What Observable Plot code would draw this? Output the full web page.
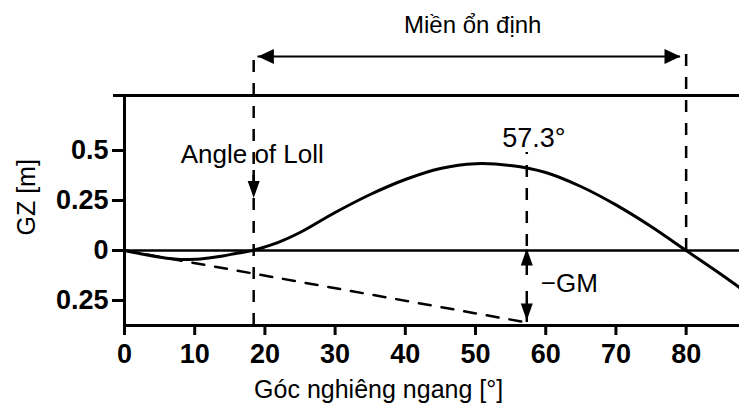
<!DOCTYPE html>
<html><head><meta charset="utf-8">
<script src="https://cdn.jsdelivr.net/npm/d3@7"></script>
<script src="https://cdn.jsdelivr.net/npm/@observablehq/plot@0.6"></script>
<style>
html,body{margin:0;padding:0;background:#fff;}
#chart svg{display:block;}
#chart g[aria-label="x-axis tick label"], #chart g[aria-label="y-axis tick label"]{font-family:"Liberation Sans",Arial,sans-serif;font-size:27px;font-weight:bold;}
</style></head>
<body><div id="chart"></div>
<script>
// GZ curve (heel angle in degrees, GZ in metres)
const angles = [0, 2, 4, 6, 8, 10, 12, 14, 16, 18, 20, 22, 25, 30, 35, 40, 45, 50, 55, 60, 65, 70, 75, 80, 85, 87.6];
const gz     = [0, -0.014, -0.028, -0.039, -0.045, -0.044, -0.037, -0.027, -0.014, -0.002, 0.018, 0.042, 0.09, 0.19, 0.28, 0.355, 0.41, 0.434, 0.425, 0.39, 0.32, 0.228, 0.12, 0, -0.12, -0.185];
const xTicks = [0, 10, 20, 30, 40, 50, 60, 70, 80];
const yTicks = [0.5, 0.25, 0, -0.25];
const yTickLabels = ["0.5", "0.25", "0", "0.25"];
const xDomain = [0, 87.6];
const yDomain = [-0.375, 0.775];
const GM = 0.36;
const lollAngle = 18.4;
const vanishAngle = 80;
const radianAngle = 57.3;
const stableLabel = "Miền ổn định";
const lollLabel = "Angle of Loll";
const radianLabel = "57.3°";
const gmLabel = "−GM";
const xLabel = "Góc nghiêng ngang [°]";
const yLabel = "GZ [m]";

const curveData = angles.map((a, i) => ({angle: a, gz: gz[i]}));
const gmLine = [{angle: 0, gz: 0}, {angle: radianAngle, gz: -GM}];

const head = (len, half) => ({draw(ctx) { ctx.moveTo(0, 0); ctx.lineTo(-half, -len); ctx.lineTo(half, -len); ctx.closePath(); }});
const stableY = 0.97;
const heads = [
  {x: lollAngle + 0.6, y: stableY, dir: 90},
  {x: vanishAngle - 0.8, y: stableY, dir: -90}
];
const heads2 = [
  {x: lollAngle, y: 0.262, dir: 0},
  {x: radianAngle, y: 0.01, dir: 180},
  {x: radianAngle, y: -GM + 0.01, dir: 0}
];
const font = "Liberation Sans, Arial, sans-serif";
const dash = "12,11";

const chart = Plot.plot({
  width: 739, height: 406,
  marginLeft: 124, marginRight: 0, marginTop: 95, marginBottom: 81,
  style: {fontFamily: font, background: "#fff", color: "#000"},
  x: {domain: xDomain, axis: null},
  y: {domain: yDomain, axis: null},
  marks: [
    // frame lines
    Plot.ruleY([yDomain[1]], {insetLeft: -11, strokeWidth: 3}),
    Plot.ruleY([yDomain[0]], {strokeWidth: 3}),
    Plot.ruleX([xDomain[0]], {strokeWidth: 3}),
    Plot.ruleY([0], {strokeWidth: 2.5}),
    // dashed guides
    Plot.ruleX([lollAngle], {y1: yDomain[0], y2: 1.0, strokeWidth: 2.5, strokeDasharray: dash}),
    Plot.ruleX([vanishAngle], {y1: 0, y2: 1.0, strokeWidth: 2.5, strokeDasharray: dash}),
    Plot.ruleX([radianAngle], {y1: 0.02, y2: 0.49, strokeWidth: 2.5, strokeDasharray: dash}),
    Plot.line(gmLine, {x: "angle", y: "gz", strokeWidth: 2.5, strokeDasharray: dash}),
    // GZ curve
    Plot.line(curveData, {x: "angle", y: "gz", curve: "catmull-rom", strokeWidth: 3}),
    // arrows
    Plot.ruleY([stableY], {x1: lollAngle + 0.6, x2: vanishAngle - 0.8, strokeWidth: 2}),
    Plot.ruleX([lollAngle], {y1: 0.3, y2: 0.4, strokeWidth: 2.5}),
    Plot.ruleX([radianAngle], {y1: -0.125, y2: 0, strokeWidth: 2.5}),
    Plot.ruleX([radianAngle], {y1: -GM, y2: -0.205, strokeWidth: 2.5}),
    Plot.dot(heads, {x: "x", y: "y", rotate: "dir", symbol: head(16, 7.5), fill: "#000", stroke: "none"}),
    Plot.dot(heads2, {x: "x", y: "y", rotate: "dir", symbol: head(17, 6), fill: "#000", stroke: "none"}),
    // axes
    Plot.axisX(xTicks, {tickSize: 10, tickPadding: 8, strokeWidth: 3, fontSize: 27, fontWeight: "bold"}),
    Plot.axisY(yTicks, {tickSize: 12, tickPadding: 4, strokeWidth: 3, fontSize: 27, fontWeight: "bold",
      tickFormat: d => yTickLabels[yTicks.indexOf(d)]}),
    // text annotations
    Plot.text([stableLabel], {x: 49.6, y: 1.086, text: d => d, fontSize: 24, lineAnchor: "bottom"}),
    Plot.text([lollLabel], {x: 8.0, y: 0.436, text: d => d, fontSize: 26, textAnchor: "start", lineAnchor: "bottom"}),
    Plot.text([radianLabel], {x: 53.8, y: 0.519, text: d => d, fontSize: 27, textAnchor: "start", lineAnchor: "bottom"}),
    Plot.text([gmLabel], {x: 59.3, y: -0.206, text: d => d, fontSize: 26, textAnchor: "start", lineAnchor: "bottom"}),
    Plot.text([xLabel], {x: 36.2, frameAnchor: "bottom", dy: 72, text: d => d, fontSize: 25, lineAnchor: "bottom"}),
    Plot.text([yLabel], {frameAnchor: "left", y: 0.075, dx: -98, rotate: -90, text: d => d, fontSize: 25})
  ]
});
document.getElementById("chart").appendChild(chart);
</script>
</body></html>
